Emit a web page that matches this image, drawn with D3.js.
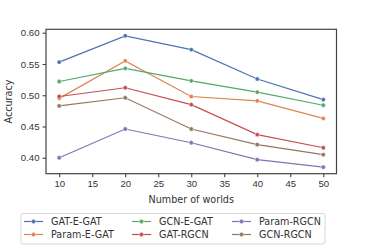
<!DOCTYPE html>
<html>
<head>
<meta charset="utf-8">
<script src="https://cdn.jsdelivr.net/npm/d3@7"></script>
<style>
  body { margin: 0; background: #fff; }
  svg { display: block; font-family: "DejaVu Sans", sans-serif; }
</style>
</head>
<body>
<div id="chart"></div>
<script>
// data
const worlds = [10, 20, 30, 40, 50];
const seriesNames = ["GAT-E-GAT", "Param-E-GAT", "GCN-E-GAT", "GAT-RGCN", "Param-RGCN", "GCN-RGCN"];
const gatEGat   = [0.553, 0.595, 0.573, 0.526, 0.493];
const paramEGat = [0.495, 0.555, 0.498, 0.491, 0.463];
const gcnEGat   = [0.522, 0.543, 0.523, 0.505, 0.484];
const gatRgcn   = [0.498, 0.512, 0.485, 0.437, 0.416];
const paramRgcn = [0.400, 0.446, 0.424, 0.397, 0.385];
const gcnRgcn   = [0.483, 0.496, 0.446, 0.421, 0.405];
const xTicks = [10, 15, 20, 25, 30, 35, 40, 45, 50];
const yTicks = [0.40, 0.45, 0.50, 0.55, 0.60];

const colors = ["#4c72b0", "#dd8452", "#55a868", "#c44e52", "#8172b3", "#937860"];
const allValues = [gatEGat, paramEGat, gcnEGat, gatRgcn, paramRgcn, gcnRgcn];

const width = 374, height = 249;
const margin = {left: 46, right: 37.5, top: 29.3, bottom: 75.3};

const svg = d3.select("#chart").append("svg")
    .attr("width", width)
    .attr("height", height);

const x = d3.scaleLinear().domain([8, 52]).range([margin.left, width - margin.right]);
const y = d3.scaleLinear().domain([0.3745, 0.6055]).range([height - margin.bottom, margin.top]);

const textColor = "#333";
const frameColor = "#444";

// axes
const xAxis = svg.append("g")
    .attr("transform", `translate(0,${height - margin.bottom})`)
    .call(d3.axisBottom(x).tickValues(xTicks).tickSize(3.5).tickPadding(3));
const yAxis = svg.append("g")
    .attr("transform", `translate(${margin.left},0)`)
    .call(d3.axisLeft(y).tickValues(yTicks).tickFormat(d3.format(".2f")).tickSize(3.5).tickPadding(3));

[xAxis, yAxis].forEach(a => {
    a.select(".domain").remove();
    a.selectAll(".tick line").attr("stroke", frameColor).attr("stroke-width", 1.1);
    a.selectAll(".tick text").attr("fill", textColor).style("font-size", "9.6px");
});

// frame
svg.append("rect")
    .attr("x", margin.left)
    .attr("y", margin.top)
    .attr("width", width - margin.right - margin.left)
    .attr("height", height - margin.bottom - margin.top)
    .attr("fill", "none")
    .attr("stroke", frameColor)
    .attr("stroke-width", 1.2);

// axis labels
svg.append("text")
    .attr("x", (margin.left + width - margin.right) / 2)
    .attr("y", 203)
    .attr("text-anchor", "middle")
    .attr("fill", textColor)
    .style("font-size", "9.6px")
    .text("Number of worlds");

svg.append("text")
    .attr("transform", `translate(12,${(margin.top + height - margin.bottom) / 2}) rotate(-90)`)
    .attr("text-anchor", "middle")
    .attr("fill", textColor)
    .style("font-size", "9.6px")
    .text("Accuracy");

// lines
const line = d3.line()
    .x((d, i) => x(worlds[i]))
    .y(d => y(d));

allValues.forEach((vals, k) => {
    svg.append("path")
        .datum(vals)
        .attr("d", line)
        .attr("fill", "none")
        .attr("stroke", colors[k])
        .attr("stroke-width", 1.2);
    svg.selectAll(null)
        .data(vals)
        .enter()
        .append("circle")
        .attr("cx", (d, i) => x(worlds[i]))
        .attr("cy", d => y(d))
        .attr("r", 2.2)
        .attr("fill", colors[k])
        .attr("stroke", "#fff")
        .attr("stroke-width", 0.5);
});

// legend, 3 columns filled column by column
const legend = svg.append("g");
legend.append("rect")
    .attr("x", 21)
    .attr("y", 213.5)
    .attr("width", 304)
    .attr("height", 30.5)
    .attr("rx", 2)
    .attr("fill", "#fff")
    .attr("stroke", "#ccc")
    .attr("stroke-width", 0.8);

const colX = [24, 132, 232];
const rowY = [221.5, 234.5];
seriesNames.forEach((name, k) => {
    const cx = colX[Math.floor(k / 2)];
    const cy = rowY[k % 2];
    legend.append("line")
        .attr("x1", cx).attr("x2", cx + 19)
        .attr("y1", cy).attr("y2", cy)
        .attr("stroke", colors[k])
        .attr("stroke-width", 1.2);
    legend.append("circle")
        .attr("cx", cx + 9.5).attr("cy", cy)
        .attr("r", 2.2)
        .attr("fill", colors[k])
        .attr("stroke", "#fff")
        .attr("stroke-width", 0.5);
    legend.append("text")
        .attr("x", cx + 27)
        .attr("y", cy)
        .attr("dy", "0.35em")
        .attr("fill", textColor)
        .style("font-size", "9.6px")
        .text(name);
});
</script>
</body>
</html>
